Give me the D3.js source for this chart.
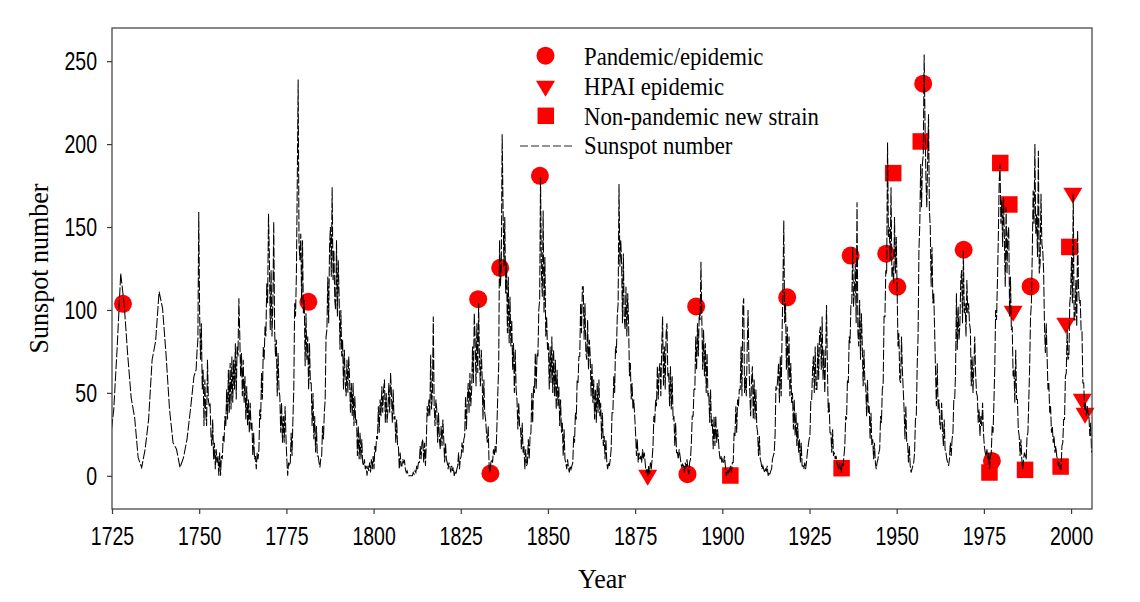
<!DOCTYPE html>
<html><head><meta charset="utf-8">
<script src="https://cdn.jsdelivr.net/npm/d3@7"></script>
<style>body{margin:0;background:#fff}svg{display:block}</style>
</head><body><svg id="chart" width="1140" height="602"></svg>
<script>
// ---- data ----
// yearly sunspot numbers before monthly record (plotted at mid-year)
const yearlyYears = [1724,1725,1726,1727,1728,1729,1730,1731,1732,1733,1734,1735,1736,1737,1738,1739,1740,1741,1742,1743,1744,1745,1746,1747,1748];
const yearlyValues = [21,40,78,122,103,73,47,35,11,5,16,34,70,81,111,101,73,40,20,16,5,11,22,40,60];
// sampled sunspot numbers, 4 per year, starting 1749
const quarterlyStartYear = 1749;
const quarterlyValues = [
[64,75,82,159],[98,70,92,52],[64,30,58,38],[30,70,46,42],[44,24,18,34],[10,20,4,16],[8,12,0,14],[0,12,10,24],[20,36,30,52],[34,64,38,68], // 1749-1758
[40,72,44,70],[52,80,46,78],[72,107,86,60],[74,48,70,44],[60,34,54,30],[46,26,44,28],[32,12,26,10],[12,4,14,10],[16,40,34,62],[46,78,70,90], // 1759-1768
[84,116,104,158],[132,88,124,84],[104,153,88,72],[82,48,74,52],[48,26,44,20],[36,20,42,24],[10,0,8,6],[8,26,12,34],[52,104,96,122],[177,239,140,130], // 1769-1778
[146,104,142,98],[106,66,98,70],[84,52,80,56],[56,30,50,22],[36,14,30,12],[12,8,5,11],[12,30,22,38],[46,84,88,120],[92,138,150,120],[174,118,136,106], // 1779-1788
[100,142,96,130],[108,76,100,72],[82,52,76,56],[48,70,50,72],[58,38,56,36],[56,30,48,32],[34,12,30,10],[26,10,22,8],[6,10,4,6],[0,6,3,8], // 1789-1798
[2,10,4,12],[4,18,14,24],[22,42,26,46],[36,54,38,52],[58,32,50,32],[40,56,38,62],[50,32,52,34],[36,20,34,18],[18,4,14,6],[6,10,8,9], // 1799-1808
[4,2,3,1],[0,0,0,0],[0,2,1,3],[2,6,4,8],[8,18,10,20],[22,8,20,6],[20,42,36,46],[36,73,40,50],[96,42,30,46],[40,20,38,22], // 1809-1818
[16,30,18,34],[22,8,20,10],[8,4,8,6],[2,6,3,5],[0,2,1,4],[6,14,4,10],[12,20,14,22],[24,48,28,46],[56,38,62,42],[52,78,56,98], // 1819-1828
[82,54,92,62],[104,70,54,76],[60,34,58,38],[34,26,20,30],[6,2,8,10],[8,16,12,18],[14,30,50,66],[142,114,128,206],[162,126,156,110],[128,86,120,80], // 1829-1838
[108,78,94,64],[80,50,76,52],[46,28,44,30],[30,16,32,14],[18,4,16,6],[8,22,10,24],[26,50,32,54],[50,74,52,74],[72,100,106,180],[124,108,160,98], // 1839-1848
[132,84,96,76],[80,52,78,56],[84,50,76,48],[70,40,64,42],[54,30,46,26],[32,12,28,10],[8,4,10,5],[2,6,4,6],[8,24,20,38],[34,58,56,72], // 1849-1858
[72,104,86,114],[114,82,104,74],[70,94,64,82],[72,48,68,44],[58,34,52,32],[56,38,58,36],[44,22,38,18],[24,10,22,8],[4,8,6,10],[16,38,38,60], // 1859-1868
[50,78,74,96],[104,176,126,142],[128,92,134,96],[88,114,84,110],[92,60,68,46],[56,40,46,36],[26,12,22,8],[14,10,12,8],[16,10,14,8],[2,4,0,6], // 1869-1878
[1,8,4,10],[18,36,32,46],[42,66,46,64],[68,48,78,96],[54,78,52,86],[92,60,62,42],[66,40,60,34],[36,18,32,14],[14,10,16,12],[8,5,7,6], // 1879-1888
[2,8,5,10],[4,1,8,10],[20,36,36,52],[52,84,64,92],[72,98,94,129],[94,64,88,60],[80,50,74,48],[50,32,52,30],[34,16,36,18],[36,20,28,22], // 1889-1898
[14,10,12,8],[10,8,12,6],[0,2,4,2],[4,6,2,8],[8,26,24,42],[26,46,42,52],[52,78,48,102],[107,50,60,48],[76,100,70,50],[36,58,66,34], // 1899-1908
[58,34,52,30],[26,12,24,10],[8,4,6,4],[2,4,3,6],[0,2,1,3],[4,10,12,14],[24,54,52,58],[68,44,72,48],[84,114,154,92],[104,64,90,58], // 1909-1918
[84,48,68,44],[50,28,46,24],[38,18,32,14],[22,8,20,6],[6,4,8,4],[8,14,18,22],[24,46,46,64],[72,50,78,52],[52,80,58,86],[90,64,96,58], // 1919-1928
[76,50,72,103],[66,38,44,26],[26,14,28,12],[14,10,12,8],[6,4,8,4],[2,8,6,12],[18,36,34,58],[56,84,80,104],[104,138,102,112],[128,92,165,86], // 1929-1938
[78,106,70,98],[80,54,76,56],[54,36,58,38],[42,22,38,18],[22,10,20,8],[4,8,10,14],[16,36,32,52],[56,96,96,124],[122,201,144,150],[130,174,120,126], // 1939-1948
[116,156,122,144],[112,78,86,58],[56,84,64,52],[40,22,42,20],[20,8,18,6],[2,4,6,8],[14,34,36,66],[84,136,152,188],[162,188,194,254],[212,180,162,190], // 1949-1958
[218,160,150,114],[138,104,110,88],[64,42,68,40],[46,30,28,44],[30,18,34,16],[14,10,8,6],[10,20,12,22],[26,46,46,62],[110,76,102,82],[92,118,124,92], // 1959-1968
[136,98,104,84],[118,98,104,92],[88,54,72,50],[66,84,62,50],[48,32,40,24],[36,30,44,26],[18,14,12,16],[10,14,4,12],[14,30,26,44],[66,100,94,116], // 1969-1978
[142,176,188,152],[166,138,168,144],[114,162,122,146],[150,96,120,88],[90,60,64,44],[76,46,46,28],[24,12,22,10],[4,10,14,12],[10,24,26,46],[66,96,104,134], // 1979-1988
[172,152,200,146],[158,132,196,122],[128,170,140,136],[124,90,74,92],[72,52,56,38],[42,26,30,20],[24,14,18,12],[10,6,8,4],[4,18,20,34],[34,60,62,88], // 1989-1998
[70,72,104,110],[132,104,170,94],[94,118,90,148],[114,104,106,88],[88,56,56,40],[44,36,42,38],[36,24,32,14],[16,24,14,18] // 1999-2006
];
// events: [year, sunspot number]
const pandemicEpidemic = [[1728.15,103.7],[1781.3,104.9],[1830.0,106.5],[1833.5,1.4],[1836.3,125.4],[1847.7,180.9],[1890.0,1.0],[1892.5,102.1],[1918.6,107.6],[1936.8,132.8],[1947.0,133.9],[1950.2,114.0],[1957.6,236.4],[1969.2,136.3],[1977.3,9.0],[1988.4,114.2]];
const hpaiEpidemic = [[1878.6,0.4],[1983.4,99.3],[1998.5,92.1],[2000.5,170.4],[2003.2,46.3],[2004.0,37.8]];
const nonPandemicNewStrain = [[1902.3,0.2],[1934.2,4.6],[1949.0,182.5],[1956.9,201.6],[1976.6,2.0],[1979.7,188.6],[1982.3,163.6],[1986.8,3.6],[1997.0,5.6],[1999.5,138.0]];
const xTickValues = [1725,1750,1775,1800,1825,1850,1875,1900,1925,1950,1975,2000];
const yTickValues = [0,50,100,150,200,250];
const legendLabels = ["Pandemic/epidemic","HPAI epidemic","Non-pandemic new strain","Sunspot number"];
const xTitle = "Year", yTitle = "Sunspot number";

// ---- build series ----
const series = [];
yearlyYears.forEach((yr,i)=>series.push([yr+0.5, yearlyValues[i]]));
quarterlyValues.forEach((row,i)=>row.forEach((v,q)=>series.push([quarterlyStartYear+i+(q+0.5)/4, v])));

// ---- scales ----
const L=112,R=1092,T=28,B=509;
const x = d3.scaleLinear().domain([1725,2006]).range([L,R]);
const y = d3.scaleLinear().domain([-20,270]).range([B,T]);
const svg = d3.select("#chart");
const RED = "#ff0000";
const SANS = "'Liberation Sans', Arial, Helvetica, sans-serif";
const SERIF = "'Liberation Serif', 'Times New Roman', Times, serif";

svg.append("defs").append("clipPath").attr("id","plotclip")
  .append("rect").attr("x",L).attr("y",T).attr("width",R-L).attr("height",B-T);

// marker shapes
const triPath = (w,h)=>`M${-w/2},${-h/3}L${w/2},${-h/3}L0,${2*h/3}Z`;
function drawCircle(g,cx,cy){ g.append("circle").attr("cx",cx).attr("cy",cy).attr("r",9).attr("fill",RED); }
function drawTri(g,cx,cy){ g.append("path").attr("d",triPath(19,16)).attr("transform",`translate(${cx},${cy})`).attr("fill",RED); }
function drawSq(g,cx,cy){ const s=16.5; g.append("rect").attr("x",cx-s/2).attr("y",cy-s/2).attr("width",s).attr("height",s).attr("fill",RED); }

const gm = svg.append("g");
pandemicEpidemic.forEach(d=>drawCircle(gm,x(d[0]),y(d[1])));
hpaiEpidemic.forEach(d=>drawTri(gm,x(d[0]),y(d[1])));
nonPandemicNewStrain.forEach(d=>drawSq(gm,x(d[0]),y(d[1])));

// sunspot line
const line = d3.line().x(d=>x(d[0])).y(d=>y(d[1]));
svg.append("path").datum(series).attr("clip-path","url(#plotclip)")
  .attr("d",line).attr("fill","none").attr("stroke","#000")
  .attr("stroke-width",1.05).attr("stroke-dasharray","10,2");

// frame
svg.append("rect").attr("x",L).attr("y",T).attr("width",R-L).attr("height",B-T)
  .attr("fill","none").attr("stroke","#3a3a3a").attr("stroke-width",1.2);

// axes
const TS = 25, SX = 0.78;
const gx = svg.append("g").attr("transform",`translate(0,${B})`)
  .call(d3.axisBottom(x).tickValues(xTickValues).tickFormat(d3.format("d")).tickSize(5).tickSizeOuter(0));
const gy = svg.append("g").attr("transform",`translate(${L},0)`)
  .call(d3.axisLeft(y).tickValues(yTickValues).tickSize(5).tickSizeOuter(0));
[gx,gy].forEach(g=>{
  g.select(".domain").remove();
  g.selectAll(".tick line").attr("stroke","#3a3a3a").attr("stroke-width",1.2);
  g.selectAll(".tick text").attr("font-family",SANS).attr("font-size",TS).attr("fill","#000");
});
gx.selectAll(".tick text").attr("y",36).attr("dy",0).attr("transform",`scale(${SX},1)`);
gy.selectAll(".tick text").attr("x",-15/SX).attr("dy","0.35em").attr("transform",`scale(${SX},1)`);

// titles
svg.append("text").attr("font-family",SERIF).attr("font-size",28).attr("text-anchor","middle")
  .attr("transform",`translate(${(L+R)/2},588) scale(0.93,1)`).text(xTitle);
svg.append("text").attr("font-family",SERIF).attr("font-size",28).attr("text-anchor","middle")
  .attr("transform",`translate(48,${(T+B)/2}) rotate(-90) scale(0.93,1)`).text(yTitle);

// legend
const lg = svg.append("g");
drawCircle(lg,545.5,55.7);
drawTri(lg,545.5,86);
drawSq(lg,545.8,115.8);
lg.append("line").attr("x1",520).attr("x2",572).attr("y1",146).attr("y2",146)
  .attr("stroke","#000").attr("stroke-width",0.85).attr("stroke-dasharray","8,3");
const baselines=[64.5,95,125,154];
legendLabels.forEach((t,i)=>{
  lg.append("text").attr("font-family",SERIF).attr("font-size",25)
    .attr("transform",`translate(584,${baselines[i]}) scale(0.91,1)`).text(t);
});
</script></body></html>
